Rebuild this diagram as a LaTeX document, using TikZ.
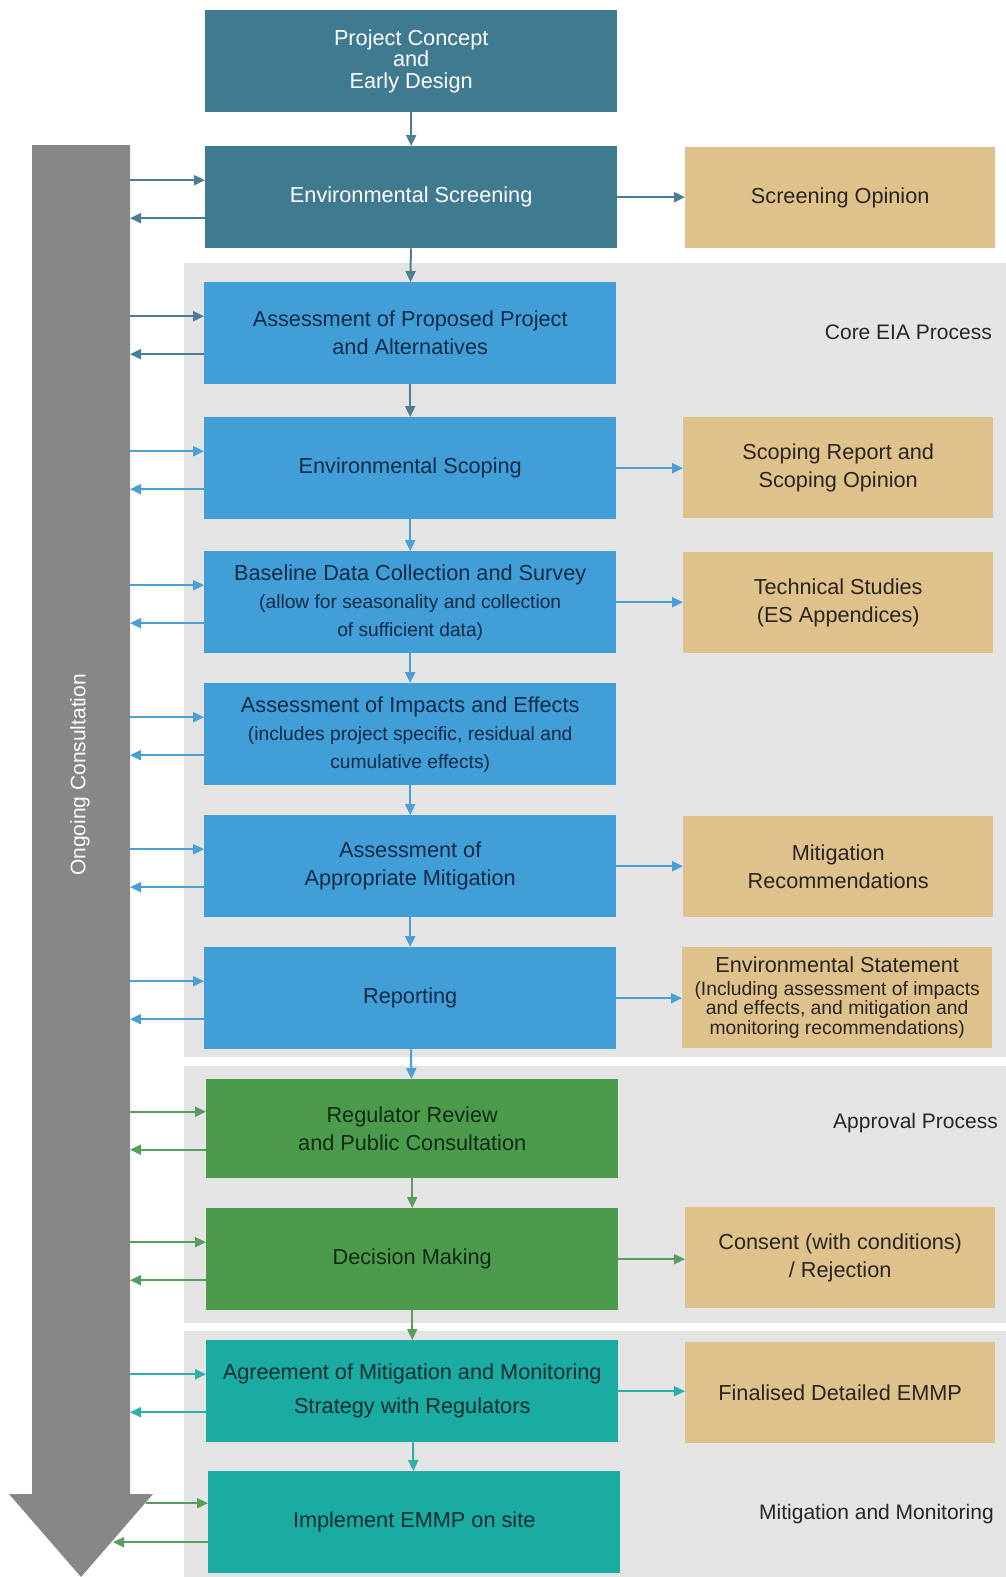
\documentclass[tikz,border=0pt]{standalone}
\usepackage{fontspec}
\setmainfont{Liberation Sans}
\usetikzlibrary{arrows.meta}
\definecolor{dteal}{HTML}{3F7A91}
\definecolor{dtealarr}{HTML}{4A7E95}
\definecolor{eblue}{HTML}{419ED6}
\definecolor{ebluearr}{HTML}{4A9FD6}
\definecolor{egreen}{HTML}{4C9B4D}
\definecolor{egreenarr}{HTML}{5A9C5B}
\definecolor{eteal}{HTML}{1AABA2}
\definecolor{etealarr}{HTML}{2DB0A8}
\definecolor{etan}{HTML}{DFC18C}
\definecolor{regiongrey}{HTML}{E4E4E4}
\definecolor{bigarrow}{HTML}{878787}
\definecolor{bluetext}{HTML}{0E2A47}
\definecolor{greentext}{HTML}{0F2A12}
\definecolor{tealtext}{HTML}{0B2E2E}
\definecolor{tantext}{HTML}{2A2520}
\newcommand\mainfs{\fontsize{21.7}{28}\selectfont}
\newcommand\labelfs{\fontsize{21}{28}\selectfont}
\newcommand\smallfs{\fontsize{19.2}{26}\selectfont}
\newcommand\tinyfs{\fontsize{19.3}{19.5}\selectfont}
\newcommand\conslink[3]{%
  \draw[conn,#2] ([yshift=17pt]#1.west -| #3) -- ([yshift=17pt]#1.west);
  \draw[conn,#2] ([yshift=-21pt]#1.west) -- ([yshift=-21pt]#1.west -| #3);}
\begin{document}
\begin{tikzpicture}[x=1pt,y=-1pt,
  box/.style={rectangle, anchor=north west, minimum width=412pt, minimum height=102pt,
    inner sep=0pt, align=center, font=\mainfs},
  dbox/.style={box, fill=dteal, text=white},
  bbox/.style={box, fill=eblue, text=bluetext},
  gbox/.style={box, fill=egreen, text=greentext, minimum height=99pt},
  tbox/.style={box, fill=eteal, text=tealtext},
  sbox/.style={box, fill=etan, text=tantext, minimum width=310pt, minimum height=101pt},
  conn/.style={line width=2pt, -{Triangle[length=11pt,width=10pt]}},
  seclabel/.style={anchor=east, inner sep=0pt, font=\labelfs, text=black!85}]
\useasboundingbox (0,0) rectangle (1006,1577);
\fill[white] (0,0) rectangle (1006,1577);
% regions
\fill[regiongrey] (184,263) rectangle (1006,1057);
\fill[regiongrey] (184,1066) rectangle (1006,1323);
\fill[regiongrey] (184,1331) rectangle (1006,1577);
% big grey arrow
\fill[bigarrow] (32,145) -- (130,145) -- (130,1494) -- (153,1494) -- (81,1577) -- (9,1494) -- (32,1494) -- cycle;
\node[rotate=90, font=\labelfs, text=white, inner sep=0pt] (oc) at (80,775) {Ongoing Consultation};
\coordinate (sh) at (130,0);
\coordinate (shb) at (146,0);
\coordinate (shc) at (113,0);
% main boxes
\node[dbox, font=\fontsize{21.7}{21.5}\selectfont] (b1) at (205,10) {Project Concept\\and\\Early Design};
\node[dbox] (b2) at (205,146) {\raisebox{-3pt}{Environmental Screening}};
\node[bbox] (b3) at (204,282) {Assessment of Proposed Project\\and Alternatives};
\node[bbox] (b4) at (204,417) {Environmental Scoping};
\node[bbox] (b5) at (204,551) {Baseline Data Collection and Survey\\\smallfs (allow for seasonality and collection\\\smallfs of sufficient data)};
\node[bbox] (b6) at (204,683) {Assessment of Impacts and Effects\\\smallfs (includes project specific, residual and\\\smallfs cumulative effects)};
\node[bbox] (b7) at (204,815) {Assessment of\\Appropriate Mitigation};
\node[bbox] (b8) at (204,947) {Reporting};
\node[gbox] (b9) at (206,1079) {Regulator Review\\and Public Consultation};
\node[gbox, minimum height=102pt] (b10) at (206,1208) {Decision Making};
\node[tbox, font=\fontsize{21.7}{34}\selectfont] (b11) at (206,1340) {Agreement of Mitigation and Monitoring\\Strategy with Regulators};
\node[tbox] (b12) at (208,1471) {Implement EMMP on site};
% side boxes
\node[sbox] (s2) at (685,147) {Screening Opinion};
\node[sbox] (s4) at (683,417) {Scoping Report and\\Scoping Opinion};
\node[sbox] (s5) at (683,552) {Technical Studies\\(ES Appendices)};
\node[sbox] (s7) at (683,816) {Mitigation\\Recommendations};
\node[sbox, font=\tinyfs] (s8) at (682,947) {\mainfs Environmental Statement\\[3pt]\tinyfs (Including assessment of impacts\\and effects, and mitigation and\\monitoring recommendations)};
\node[sbox] (s10) at (685,1207) {Consent (with conditions)\\/ Rejection};
\node[sbox] (s11) at (685,1342) {Finalised Detailed EMMP};
% section labels
\node[seclabel] (l1) at (992,332) {Core EIA Process};
\node[seclabel] (l2) at (998,1123) {Approval Process};
\node[seclabel] (l3) at (994,1514) {Mitigation and Monitoring};
% vertical flow arrows
\draw[conn,dtealarr] (b1) -- (b2);
\draw[conn,dtealarr] (b2) -- (b3);
\draw[conn,dtealarr] (b3) -- (b4);
\draw[conn,ebluearr] (b4) -- (b5);
\draw[conn,ebluearr] (b5) -- (b6);
\draw[conn,ebluearr] (b6) -- (b7);
\draw[conn,ebluearr] (b7) -- (b8);
\draw[conn,ebluearr] (b8) -- (b9);
\draw[conn,egreenarr] (b9) -- (b10);
\draw[conn,egreenarr] (b10) -- (b11);
\draw[conn,etealarr] (b11) -- (b12);
% outputs
\draw[conn,dtealarr] (b2.east) -- (b2.east -| s2.west);
\draw[conn,ebluearr] (b4.east) -- (b4.east -| s4.west);
\draw[conn,ebluearr] (b5.east) -- (b5.east -| s5.west);
\draw[conn,ebluearr] (b7.east) -- (b7.east -| s7.west);
\draw[conn,ebluearr] (b8.east) -- (b8.east -| s8.west);
\draw[conn,egreenarr] (b10.east) -- (b10.east -| s10.west);
\draw[conn,etealarr] (b11.east) -- (b11.east -| s11.west);
% consultation links
\conslink{b2}{dtealarr}{sh}
\conslink{b3}{dtealarr}{sh}
\conslink{b4}{ebluearr}{sh}
\conslink{b5}{ebluearr}{sh}
\conslink{b6}{ebluearr}{sh}
\conslink{b7}{ebluearr}{sh}
\conslink{b8}{ebluearr}{sh}
\conslink{b9}{egreenarr}{sh}
\conslink{b10}{egreenarr}{sh}
\conslink{b11}{etealarr}{sh}
\draw[conn,egreenarr] ([yshift=19pt]b12.west -| shb) -- ([yshift=19pt]b12.west);
\draw[conn,egreenarr] ([yshift=-20pt]b12.west) -- ([yshift=-20pt]b12.west -| shc);
\end{tikzpicture}
\end{document}
